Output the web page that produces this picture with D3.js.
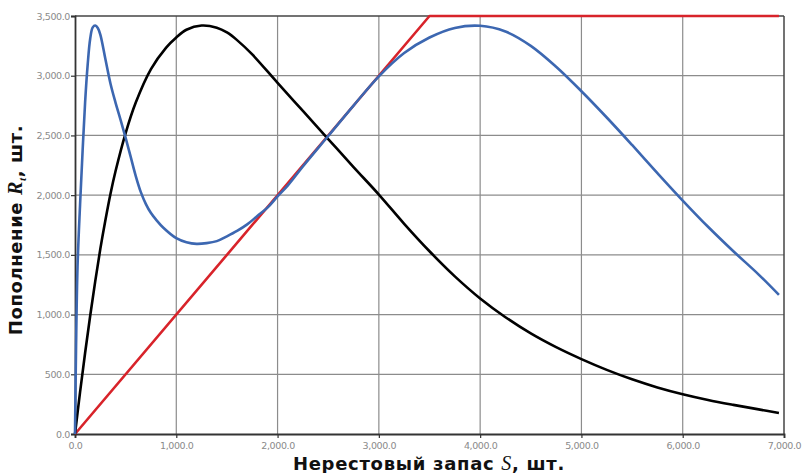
<!DOCTYPE html>
<html>
<head>
<meta charset="utf-8">
<script src="https://cdn.jsdelivr.net/npm/d3@7"></script>
<style>
  html, body { margin: 0; padding: 0; background: #fff; }
  svg { display: block; }
</style>
</head>
<body>
<svg id="chart" width="807" height="473"></svg>
<script>
// Spawning stock S (x) and recruitment R (y), three stock–recruitment curves

// Black curve: single-peaked (Ricker-type) recruitment
const blackS = [0, 50, 100, 150, 200, 250, 300, 350, 400, 500, 600, 750, 900, 1000, 1100, 1250, 1400, 1500,
  1600, 1750, 2000, 2250, 2500, 2750, 3000, 3250, 3500, 3750, 4000, 4250, 4500, 4750, 5000, 5250,
  5500, 5750, 6000, 6250, 6500, 6750, 6950];
const blackR = [0, 350, 680, 990, 1280, 1550, 1790, 2010, 2200, 2520, 2775, 3055, 3235, 3320, 3385, 3420, 3402, 3362,
  3298, 3178, 2940, 2705, 2470, 2235, 2005, 1760, 1530, 1320, 1135, 978, 842, 727, 627, 537,
  458, 390, 333, 285, 244, 206, 176];

// Blue curve: two-peaked recruitment
const blueS = [0, 10, 25, 50, 75, 100, 125, 150, 175, 200, 225, 250, 300, 350, 400, 450, 500, 550, 600, 650, 700,
  750, 800, 875, 1000, 1100, 1200, 1300, 1400, 1500, 1600, 1700, 1800, 1900, 2000, 2100, 2250, 2500, 2750,
  3000, 3250, 3500, 3750, 4000, 4250, 4500, 4750, 5000, 5250, 5500, 5750, 6000, 6250,
  6500, 6750, 6950];
const blueR = [0, 700, 1400, 1920, 2370, 2780, 3090, 3310, 3405, 3420, 3400, 3345, 3140, 2935, 2775, 2630, 2480, 2320, 2160, 2025, 1925,
  1850, 1795, 1725, 1640, 1606, 1592, 1598, 1615, 1655, 1700, 1755, 1825, 1895, 1990, 2080, 2240, 2495, 2750,
  2995, 3190, 3320, 3400, 3418, 3370, 3250, 3075, 2870, 2650, 2420, 2185, 1955, 1735,
  1530, 1335, 1165];

// Red line: replacement line R = S, capped at the top of the scale
const redS = [0, 3500, 6950];
const redR = [0, 3500, 3500];

const xTicks = [0, 1000, 2000, 3000, 4000, 5000, 6000, 7000];
const yTicks = [0, 500, 1000, 1500, 2000, 2500, 3000, 3500];

const W = 807, H = 473;
const margin = { top: 16, right: 23, bottom: 39, left: 75 };
const innerW = W - margin.left - margin.right;
const innerH = H - margin.top - margin.bottom;

const svg = d3.select("#chart");
const g = svg.append("g").attr("transform", `translate(${margin.left},${margin.top})`);

const x = d3.scaleLinear().domain([0, 7000]).range([0, innerW]);
const y = d3.scaleLinear().domain([0, 3500]).range([innerH, 0]);
const fmt = d3.format(",.1f");

// grid
g.append("g").selectAll("line").data(xTicks.slice(1, -1)).join("line")
  .attr("x1", d => x(d)).attr("x2", d => x(d))
  .attr("y1", 0).attr("y2", innerH)
  .attr("stroke", "#8c8c8c").attr("stroke-width", 1.2);
g.append("g").selectAll("line").data(yTicks.slice(1, -1)).join("line")
  .attr("x1", 0).attr("x2", innerW)
  .attr("y1", d => y(d)).attr("y2", d => y(d))
  .attr("stroke", "#8c8c8c").attr("stroke-width", 1.2);

// frame (top and right)
g.append("line").attr("x1", 0).attr("x2", innerW).attr("y1", 0).attr("y2", 0)
  .attr("stroke", "#444").attr("stroke-width", 1.5);
g.append("line").attr("x1", innerW).attr("x2", innerW).attr("y1", 0).attr("y2", innerH)
  .attr("stroke", "#444").attr("stroke-width", 1.5);

// axes
const xAxis = d3.axisBottom(x).tickValues(xTicks).tickFormat(fmt).tickSize(4).tickPadding(4);
const yAxis = d3.axisLeft(y).tickValues(yTicks).tickFormat(fmt).tickSize(4).tickPadding(1);

const gx = g.append("g").attr("transform", `translate(0,${innerH})`).call(xAxis);
const gy = g.append("g").call(yAxis);
[gx, gy].forEach(a => {
  a.select(".domain").attr("stroke", "#333").attr("stroke-width", 1.8);
  a.selectAll(".tick line").attr("stroke", "#333").attr("stroke-width", 1.2);
  a.selectAll(".tick text")
    .attr("fill", "#8a8a8a")
    .style("font-family", "'DejaVu Sans', sans-serif")
    .style("font-size", "9.5px")
    .style("letter-spacing", "-0.4px");
});

// curves
const line = d3.line().x(d => x(d[0])).y(d => y(d[1]));
const series = [
  { s: redS, r: redR, color: "#d8232a", curve: d3.curveLinear },
  { s: blackS, r: blackR, color: "#000000", curve: d3.curveCatmullRom.alpha(0.5) },
  { s: blueS, r: blueR, color: "#3c67b1", curve: d3.curveCatmullRom.alpha(0.5) }
];
series.forEach(sr => {
  const pts = sr.s.map((v, i) => [v, sr.r[i]]);
  g.append("path").datum(pts)
    .attr("fill", "none")
    .attr("stroke", sr.color)
    .attr("stroke-width", 2.6)
    .attr("stroke-linejoin", "round")
    .attr("d", line.curve(sr.curve));
});

// axis titles
const titleFont = "'DejaVu Sans', sans-serif";
const xt = svg.append("text")
  .attr("x", 429).attr("y", 470)
  .attr("text-anchor", "middle")
  .attr("fill", "#111")
  .style("font-family", titleFont).style("font-weight", "bold").style("font-size", "18px")
  .style("letter-spacing", "0.7px");
xt.append("tspan").text("Нерестовый запас ");
xt.append("tspan").text("S")
  .style("font-family", "'Liberation Serif', serif").style("font-style", "italic")
  .style("font-weight", "normal").style("font-size", "20px");
xt.append("tspan").text(", шт.");

const yt = svg.append("text")
  .attr("transform", "translate(22,230) rotate(-90)")
  .attr("text-anchor", "middle")
  .attr("fill", "#111")
  .style("font-family", titleFont).style("font-weight", "bold").style("font-size", "18px")
  .style("letter-spacing", "0.6px");
yt.append("tspan").text("Пополнение ");
yt.append("tspan").text("R")
  .style("font-family", "'Liberation Serif', serif").style("font-style", "italic")
  .style("font-size", "20px");
yt.append("tspan").text("t").attr("dy", 4)
  .style("font-family", "'Liberation Serif', serif").style("font-style", "italic")
  .style("font-size", "11px");
yt.append("tspan").text(", шт.").attr("dy", -4);
</script>
</body>
</html>
